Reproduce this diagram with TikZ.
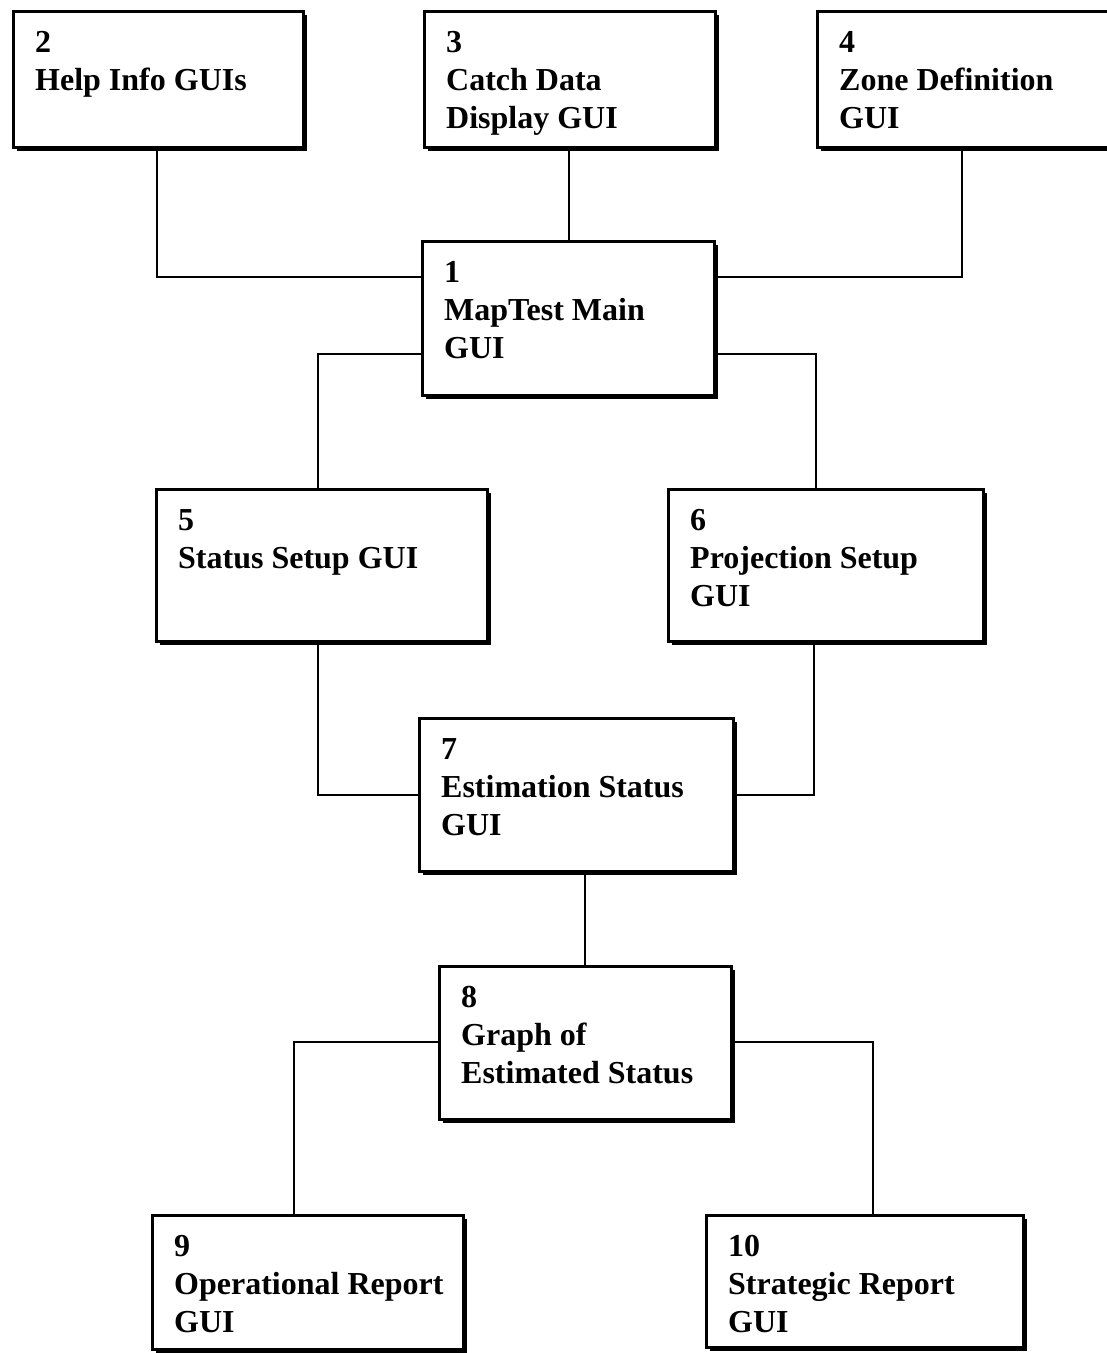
\documentclass[tikz,border=0pt]{standalone}
\usepackage{fontspec}
\setmainfont{Liberation Serif}
\begin{document}
\begin{tikzpicture}[x=1pt,y=-1pt,
  link/.style={line width=2.4pt},
  frame/.style={draw,fill=white,line width=3pt},
  shade/.style={fill=black}]
\useasboundingbox (0,0) rectangle (1107,1353);
% guibox: name, left, top, right, bottom, label text
\newcommand\guibox[6]{%
  \fill[shade] (#2+5,#3+5) rectangle (#4+5,#5+5);
  \node[frame,rectangle,minimum width=#4-#2,minimum height=#5-#3,inner sep=0,anchor=north west] (#1) at (#2,#3) {};
  \node[anchor=base west,inner sep=0] (#1-text) at (#2+23,#3+42)
    {\parbox[t]{12cm}{\fontsize{32}{38}\selectfont\bfseries #6}};
}
% connectors first so boxes cover their ends
\coordinate (c21) at (157,277);
\coordinate (c41) at (962,277);
\coordinate (c15) at (318,354);
\coordinate (c16) at (816,354);
\coordinate (c57) at (318,795);
\coordinate (c67) at (814,795);
\coordinate (c89) at (294,1042);
\coordinate (c810) at (873,1042);

\guibox{b2}{12}{10}{302}{146}{2\\Help Info GUIs}
\guibox{b3}{423}{10}{714}{146}{3\\Catch Data\\Display GUI}
\guibox{b4}{816}{10}{1140}{146}{4\\Zone Definition\\GUI}
\guibox{b1}{421}{240}{713}{394}{1\\MapTest Main\\GUI}
\guibox{b5}{155}{488}{486}{640}{5\\Status Setup GUI}
\guibox{b6}{667}{488}{982}{640}{6\\Projection Setup\\GUI}
\guibox{b7}{418}{717}{732}{870}{7\\Estimation Status\\GUI}
\guibox{b8}{438}{965}{730}{1118}{8\\Graph of\\Estimated Status}
\guibox{b9}{151}{1214}{462}{1348}{9\\Operational Report\\GUI}
\guibox{b10}{705}{1214}{1022}{1346}{10\\Strategic Report\\GUI}

\draw[link] (b2.south -| c21) -- (c21) -- (c21 -| b1.west);
\draw[link] (b3.south -| 569,0) -- (b1.north -| 569,0);
\draw[link] (b4.south -| c41) -- (c41) -- (c41 -| b1.east);
\draw[link] (c15 -| b1.west) -- (c15) -- (c15 |- b5.north);
\draw[link] (c16 -| b1.east) -- (c16) -- (c16 |- b6.north);
\draw[link] (c57 |- b5.south) -- (c57) -- (c57 -| b7.west);
\draw[link] (c67 |- b6.south) -- (c67) -- (c67 -| b7.east);
\draw[link] (b7.south -| 585,0) -- (b8.north -| 585,0);
\draw[link] (c89 -| b8.west) -- (c89) -- (c89 |- b9.north);
\draw[link] (c810 -| b8.east) -- (c810) -- (c810 |- b10.north);
\end{tikzpicture}
\end{document}
